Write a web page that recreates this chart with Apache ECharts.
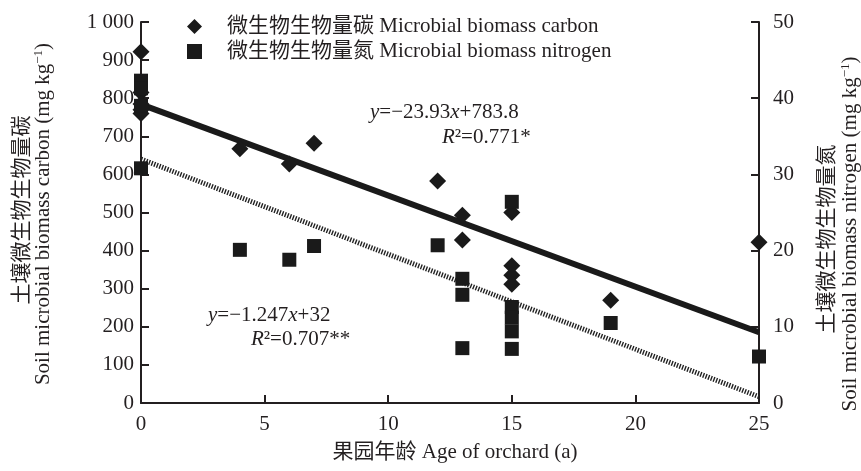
<!DOCTYPE html>
<html>
<head>
<meta charset="utf-8">
<script src="https://cdn.jsdelivr.net/npm/echarts@6/dist/echarts.min.js"></script>
<style>
  html, body { margin: 0; padding: 0; background: #fff; }
  #chart { width: 861px; height: 471px; }
</style>
</head>
<body>
<div id="chart"></div>
<script>
// Orchard age (years) and microbial biomass carbon (mg/kg)
const carbonAge   = [0, 0, 0, 0, 0, 4, 6, 7, 12, 13, 13, 15, 15, 15, 15, 19, 25];
const carbonValue = [922, 815, 785, 770, 760, 667, 627, 682, 583, 493, 428, 500, 360, 335, 312, 270, 422];

// Orchard age (years) and microbial biomass nitrogen (mg/kg)
const nitrogenAge   = [0, 0, 0, 0, 4, 6, 7, 12, 13, 13, 13, 15, 15, 15, 15, 15, 19, 25];
const nitrogenValue = [42.3, 41.3, 39.0, 30.8, 20.1, 18.8, 20.6, 20.7, 16.3, 14.2, 7.2, 26.4, 12.6, 11.2, 9.4, 7.1, 10.5, 6.1];

// Linear fits
const carbonFit   = { slope: -23.93, intercept: 783.8 };
const nitrogenFit = { slope: -1.247, intercept: 32 };
const fitRange    = [0, 25];

// Tick labels
const ageTicks      = ['0', '5', '10', '15', '20', '25'];
const carbonTicks   = ['0', '100', '200', '300', '400', '500', '600', '700', '800', '900', '1 000'];
const nitrogenTicks = ['0', '10', '20', '30', '40', '50'];

const seriesNames = ['微生物生物量碳 Microbial biomass carbon', '微生物生物量氮 Microbial biomass nitrogen'];

const FONT = "'Liberation Serif', 'Noto Sans CJK SC', serif";
const INK = '#231f20';
const FS = 21;

const pairs = (xs, ys) => xs.map((x, i) => [x, ys[i]]);
const fitLine = f => fitRange.map(x => [x, f.intercept + f.slope * x]);

const axisCommon = {
  axisLine: { show: true, lineStyle: { color: INK, width: 2 } },
  axisTick: { show: true, inside: true, length: 8, lineStyle: { color: INK, width: 2 } },
  splitLine: { show: false },
  axisLabel: { color: INK, fontFamily: FONT, fontSize: FS }
};

const rt = (extra) => Object.assign({ fontFamily: FONT, fontSize: FS, fill: INK }, extra || {});

const chart = echarts.init(document.getElementById('chart'));
chart.setOption({
  animation: false,
  backgroundColor: '#fff',
  grid: { left: 141, right: 102, top: 22, bottom: 68 },
  legend: {
    orient: 'vertical',
    left: 182,
    top: 11,
    itemWidth: 15,
    itemHeight: 15,
    itemGap: 4,
    selectedMode: false,
    data: [
      { name: seriesNames[0], icon: 'diamond' },
      { name: seriesNames[1], icon: 'rect' }
    ],
    textStyle: { color: INK, fontFamily: FONT, fontSize: FS, lineHeight: 21, padding: [0, 0, 0, 20] }
  },
  xAxis: Object.assign({}, axisCommon, {
    type: 'value', min: 0, max: 25, interval: 5,
    axisLabel: Object.assign({}, axisCommon.axisLabel, {
      margin: 11,
      formatter: v => ageTicks[Math.round(v / 5)]
    })
  }),
  yAxis: [
    Object.assign({}, axisCommon, {
      type: 'value', min: 0, max: 1000, interval: 100, position: 'left',
      axisLabel: Object.assign({}, axisCommon.axisLabel, {
        margin: 7,
        formatter: v => carbonTicks[Math.round(v / 100)]
      })
    }),
    Object.assign({}, axisCommon, {
      type: 'value', min: 0, max: 50, interval: 10, position: 'right',
      axisLabel: Object.assign({}, axisCommon.axisLabel, {
        margin: 14,
        formatter: v => nitrogenTicks[Math.round(v / 10)]
      })
    })
  ],
  series: [
    {
      name: 'carbon fit', type: 'line', yAxisIndex: 0, data: fitLine(carbonFit),
      symbol: 'none', silent: true, z: 2,
      lineStyle: { color: '#1a1a1a', width: 6 }
    },
    {
      name: 'nitrogen fit', type: 'line', yAxisIndex: 1, data: fitLine(nitrogenFit),
      symbol: 'none', silent: true, z: 2,
      lineStyle: { color: '#222', width: 5, type: [1.4, 1.4] }
    },
    {
      name: seriesNames[0], type: 'scatter', yAxisIndex: 0,
      data: pairs(carbonAge, carbonValue),
      symbol: 'diamond', symbolSize: [17, 17], z: 3,
      itemStyle: { color: '#1a1a1a', opacity: 1 }
    },
    {
      name: seriesNames[1], type: 'scatter', yAxisIndex: 1,
      data: pairs(nitrogenAge, nitrogenValue),
      symbol: 'rect', symbolSize: [14, 14], z: 3,
      itemStyle: { color: '#1a1a1a', opacity: 1 }
    }
  ],
  graphic: [
    // fit equations
    {
      type: 'text', left: 370, top: 102, z: 10,
      style: {
        text: '{i|y}{n|=−23.93}{i|x}{n|+783.8}',
        rich: { i: rt({ fontStyle: 'italic' }), n: rt() }
      }
    },
    {
      type: 'text', left: 442, top: 127, z: 10,
      style: {
        text: '{i|R}{n|²=0.771*}',
        rich: { i: rt({ fontStyle: 'italic' }), n: rt() }
      }
    },
    {
      type: 'text', left: 208, top: 305, z: 10,
      style: {
        text: '{i|y}{n|=−1.247}{i|x}{n|+32}',
        rich: { i: rt({ fontStyle: 'italic' }), n: rt() }
      }
    },
    {
      type: 'text', left: 251, top: 329, z: 10,
      style: {
        text: '{i|R}{n|²=0.707**}',
        rich: { i: rt({ fontStyle: 'italic' }), n: rt() }
      }
    },
    // left axis title
    {
      type: 'text', x: 22, y: 210, rotation: Math.PI / 2, z: 10,
      style: { text: '土壤微生物生物量碳', font: FS + 'px ' + FONT, fill: INK, align: 'center', verticalAlign: 'middle' }
    },
    {
      type: 'text', x: 43, y: 214, rotation: Math.PI / 2, z: 10,
      style: {
        text: '{n|Soil microbial biomass carbon (mg kg}{s|−1}{n|)}',
        align: 'center', verticalAlign: 'middle',
        rich: { n: rt(), s: rt({ fontSize: 13, verticalAlign: 'top' }) }
      }
    },
    // right axis title
    {
      type: 'text', x: 827, y: 239, rotation: Math.PI / 2, z: 10,
      style: { text: '土壤微生物生物量氮', font: FS + 'px ' + FONT, fill: INK, align: 'center', verticalAlign: 'middle' }
    },
    {
      type: 'text', x: 850, y: 234, rotation: Math.PI / 2, z: 10,
      style: {
        text: '{n|Soil microbial biomass nitrogen (mg kg}{s|−1}{n|)}',
        align: 'center', verticalAlign: 'middle',
        rich: { n: rt(), s: rt({ fontSize: 13, verticalAlign: 'top' }) }
      }
    },
    // x axis title
    {
      type: 'text', x: 455, y: 452, z: 10,
      style: { text: '果园年龄 Age of orchard (a)', font: FS + 'px ' + FONT, fill: INK, align: 'center', verticalAlign: 'middle' }
    }
  ]
});
</script>
</body>
</html>
